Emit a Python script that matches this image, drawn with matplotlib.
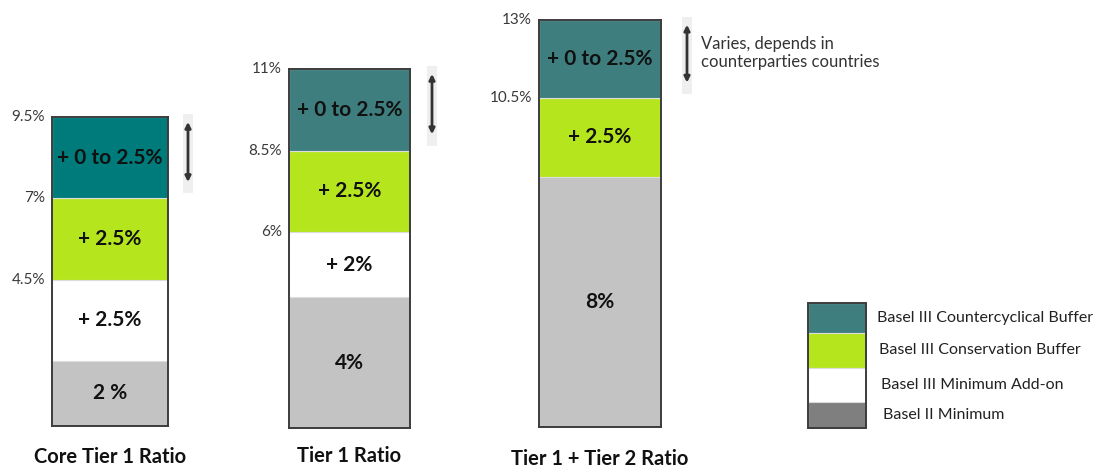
import matplotlib
matplotlib.use("Agg")
import matplotlib.pyplot as plt
from matplotlib.patches import Rectangle

plt.rcParams['font.family'] = ['Lato', 'DejaVu Sans']

# ---------------- data ----------------
categories = ["Core Tier 1 Ratio", "Tier 1 Ratio", "Tier 1 + Tier 2 Ratio"]
basel2_minimum = [2, 4, 8]
basel3_addon = [2.5, 2, 0]
conservation_buffer = [2.5, 2.5, 2.5]
countercyclical_buffer = [2.5, 2.5, 2.5]

base_labels = ["2 %", "4%", "8%"]
addon_labels = ["+ 2.5%", "+ 2%", ""]
conservation_labels = ["+ 2.5%", "+ 2.5%", "+ 2.5%"]
countercyclical_labels = ["+ 0 to 2.5%", "+ 0 to 2.5%", "+ 0 to 2.5%"]

legend_labels = ["Basel III Countercyclical Buffer", "Basel III Conservation Buffer",
                 "Basel III Minimum Add-on", "Basel II Minimum"]
note_text = "Varies, depends in\ncounterparties countries"

# ---------------- style / layout ----------------
W, H = 1104, 468
teal_first = "#007b7b"
teal = "#3f7e7e"
lime = "#b5e61d"
white = "#ffffff"
gray = "#c3c3c3"
legend_gray = "#7f7f7f"
edge = "#3c3c3c"

# bar boxes in pixels: left, bottom, width, top
boxes = [(52, 426, 116, 117), (289, 428, 121, 69), (539, 427, 122, 20)]
arrow_gap = [20, 22, 26]
cat_offsets = [-22, -20, -23]

fig = plt.figure(figsize=(W / 100, H / 100), dpi=100)

overlay = fig.add_axes([0, 0, 1, 1])
overlay.set_xlim(0, W)
overlay.set_ylim(H, 0)
overlay.axis("off")

for i, cat in enumerate(categories):
    l, b, w, t = boxes[i]
    ax = fig.add_axes([l / W, (H - b) / H, w / W, (b - t) / H])
    ax.set_zorder(2)
    segs = [
        (basel2_minimum[i], gray, base_labels[i]),
        (basel3_addon[i], white, addon_labels[i]),
        (conservation_buffer[i], lime, conservation_labels[i]),
        (countercyclical_buffer[i], teal_first if i == 0 else teal, countercyclical_labels[i]),
    ]
    total = sum(s[0] for s in segs)
    ax.set_xlim(-0.5, 0.5)
    ax.set_ylim(0, total)
    ax.set_xticks([])
    ax.set_yticks([])
    ax.patch.set_alpha(0)
    for sp in ax.spines.values():
        sp.set_color(edge)
        sp.set_linewidth(1.4)
        sp.set_zorder(5)

    cum = 0
    boundaries = []
    for k, (val, col, lab) in enumerate(segs):
        if val <= 0:
            continue
        ax.bar(0, val, bottom=cum, width=1, color=col, edgecolor="#dcdcdc",
               linewidth=0.8, zorder=2)
        ax.text(0, cum + val / 2, lab, ha="center", va="center",
                fontsize=15, fontweight="bold", color="#111111", zorder=4)
        cum += val
        if k >= 1:
            boundaries.append(cum)

    px = 1.0 / w  # data units per pixel in x
    for v in boundaries:
        ax.text(-0.5 - 7 * px, v, f"{v:g}%", ha="right", va="center",
                fontsize=11, color="#3a3a3a", clip_on=False)

    # variation arrow
    ax_x = 0.5 + arrow_gap[i] * px
    top = total
    ax.add_patch(Rectangle((ax_x - 5 * px, top - 2.35), 10 * px, 2.45,
                           facecolor="#efefef", edgecolor="none", clip_on=False, zorder=1))
    ax.annotate("", xy=(ax_x, top - 0.15), xytext=(ax_x, top - 2.0),
                arrowprops=dict(arrowstyle="<|-|>", color="#333333", lw=2,
                                mutation_scale=8, shrinkA=0, shrinkB=0),
                annotation_clip=False)
    if i == 2:
        ax.text(ax_x + 14 * px, top - 1.05, note_text, ha="left", va="center",
                fontsize=12, color="#333333", linespacing=1.15, clip_on=False)

    ax.annotate(cat, xy=(0, 0), xycoords="data", xytext=(0, cat_offsets[i]),
                textcoords="offset points", ha="center", va="center",
                fontsize=14.5, fontweight="bold", color="#111111", annotation_clip=False)

# legend
legend_colors = [teal, lime, white, legend_gray]
legend_tops = [303, 333, 368, 402]
legend_bottoms = [333, 368, 402, 428]
legend_text_x = [877, 879, 881, 883]
for col, y0, y1, lab, tx in zip(legend_colors, legend_tops, legend_bottoms, legend_labels, legend_text_x):
    overlay.add_patch(Rectangle((808, y0), 58, y1 - y0, facecolor=col,
                                edgecolor="#dcdcdc", linewidth=0.8))
    overlay.text(tx, (y0 + y1) / 2, lab, ha="left", va="center", fontsize=11.5, color="#222222")
overlay.add_patch(Rectangle((808, 303), 58, 125, facecolor="none", edgecolor=edge, linewidth=1.4))

fig.savefig("out.png", dpi=100)
